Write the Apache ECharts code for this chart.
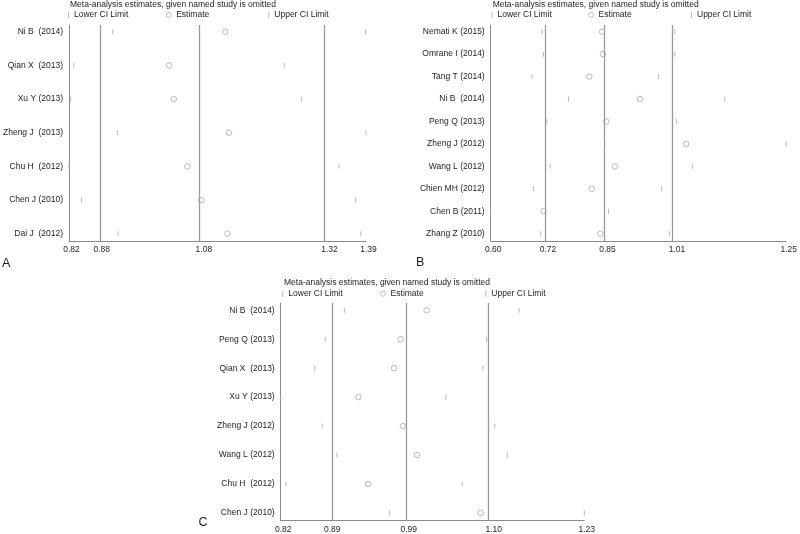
<!DOCTYPE html>
<html>
<head>
<meta charset="utf-8">
<script src="https://cdn.jsdelivr.net/npm/echarts@6/dist/echarts.min.js"></script>
<style>html,body{margin:0;padding:0;background:#fff}#chart{width:800px;height:534px}</style>
</head>
<body>
<div id="chart"></div>
<script>
// ---- Panel A ----
const studiesA = ['Ni B  (2014)', 'Qian X  (2013)', 'Xu Y (2013)', 'Zheng J  (2013)', 'Chu H  (2012)', 'Chen J (2010)', 'Dai J  (2012)'];
const lowerA = [0.904, 0.829, 0.823, 0.913, 0.820, 0.844, 0.914];
const estA   = [1.120, 1.012, 1.021, 1.127, 1.047, 1.074, 1.124];
const upperA = [1.389, 1.233, 1.266, 1.390, 1.338, 1.370, 1.380];
const refA = [0.878, 1.074, 1.315];
const tickValsA = [0.82, 0.878, 1.074, 1.315, 1.39];
const tickLabelsA = ['0.82', '0.88', '1.08', '1.32', '1.39'];

// ---- Panel B ----
const studiesB = ['Nemati K (2015)', 'Omrane I (2014)', 'Tang T (2014)', 'Ni B  (2014)', 'Peng Q (2013)', 'Zheng J (2012)', 'Wang L (2012)', 'Chien MH (2012)', 'Chen B (2011)', 'Zhang Z (2010)'];
const lowerB = [0.713, 0.716, 0.691, 0.771, 0.723, 0.851, 0.731, 0.694, 0.600, 0.710];
const estB   = [0.845, 0.847, 0.817, 0.928, 0.854, 1.030, 0.873, 0.822, 0.716, 0.841];
const upperB = [1.005, 1.005, 0.969, 1.115, 1.009, 1.250, 1.044, 0.976, 0.859, 0.993];
const refB = [0.7206, 0.8515, 1.0042];
const tickValsB = [0.60, 0.7206, 0.8515, 1.0042, 1.25];
const tickLabelsB = ['0.60', '0.72', '0.85', '1.01', '1.25'];

// ---- Panel C ----
const studiesC = ['Ni B  (2014)', 'Peng Q (2013)', 'Qian X  (2013)', 'Xu Y (2013)', 'Zheng J (2012)', 'Wang L (2012)', 'Chu H  (2012)', 'Chen J (2010)'];
const lowerC = [0.906, 0.880, 0.866, 0.820, 0.876, 0.896, 0.827, 0.967];
const estC   = [1.017, 0.982, 0.973, 0.925, 0.985, 1.004, 0.938, 1.090];
const upperC = [1.142, 1.098, 1.093, 1.043, 1.109, 1.126, 1.065, 1.230];
const refC = [0.8862, 0.9896, 1.1044];
const tickValsC = [0.82, 0.8862, 0.9896, 1.1044, 1.23];
const tickLabelsC = ['0.82', '0.89', '0.99', '1.10', '1.23'];

const titleText = 'Meta-analysis estimates, given named study is omitted';
const legendNames = ['Lower CI Limit', 'Estimate', 'Upper CI Limit'];

const FONT = 'Liberation Sans, Arial, Helvetica, sans-serif';
const TXT = '#1e1e1e';
const FS = 8.5;
const CI_COLOR = '#a8a8a8';
const EST_COLOR = '#a0a0a0';

const panels = [
  { studies: studiesA, lower: lowerA, est: estA, upper: upperA, ref: refA, tv: tickValsA, tl: tickLabelsA,
    xmin: 0.82, xmax: 1.39, grid: { left: 68, top: 25, width: 298, height: 216 }, padTop: 6.7, padBot: 7.3,
    titleX: 70, titleY: 0, legY: 10.5, legX: [68, 165.8, 268.3], letter: 'A', letterX: 2, letterY: 257.5 },
  { studies: studiesB, lower: lowerB, est: estB, upper: upperB, ref: refB, tv: tickValsB, tl: tickLabelsB,
    xmin: 0.60, xmax: 1.25, grid: { left: 490.7, top: 25, width: 298, height: 216 }, padTop: 6.7, padBot: 7.3,
    titleX: 492.7, titleY: 0, legY: 10.5, legX: [491.5, 588.2, 691], letter: 'B', letterX: 416, letterY: 256.5 },
  { studies: studiesC, lower: lowerC, est: estC, upper: upperC, ref: refC, tv: tickValsC, tl: tickLabelsC,
    xmin: 0.82, xmax: 1.23, grid: { left: 280.7, top: 303, width: 303.6, height: 217.7 }, padTop: 7.3, padBot: 7.8,
    titleX: 284, titleY: 278.3, legY: 289.3, legX: [282.3, 380.2, 485.3], letter: 'C', letterX: 198.5, letterY: 516.5 }
];

const option = {
  animation: false,
  backgroundColor: '#fff',
  textStyle: { fontFamily: FONT },
  title: [], legend: [], grid: [], xAxis: [], yAxis: [], series: []
};

panels.forEach((p, i) => {
  const n = p.studies.length;
  const inner = p.grid.height - p.padTop - p.padBot;
  const step = inner / (n - 1);
  const ymin = 1 - p.padTop / step;
  const ymax = n + p.padBot / step;

  option.title.push({
    text: titleText, left: p.titleX, top: p.titleY, padding: 0,
    textStyle: { fontSize: FS, fontWeight: 'normal', color: TXT, fontFamily: FONT }
  });
  option.title.push({
    text: p.letter, left: p.letterX, top: p.letterY, padding: 0,
    textStyle: { fontSize: 12.5, fontWeight: 'normal', color: TXT, fontFamily: FONT }
  });

  legendNames.forEach((nm, k) => {
    const isEst = k === 1;
    option.legend.push({
      data: [nm], left: p.legX[k], top: p.legY, padding: 0, selectedMode: false,
      itemWidth: isEst ? 5 : 1, itemHeight: isEst ? 5 : 6,
      icon: isEst ? 'circle' : 'rect',
      itemStyle: isEst
        ? { color: '#ffffff', borderColor: EST_COLOR, borderWidth: 0.8 }
        : { color: CI_COLOR, borderWidth: 0 },
      textStyle: { fontSize: FS, color: TXT, fontFamily: FONT }
    });
  });

  option.grid.push(Object.assign({ containLabel: false }, p.grid));

  option.xAxis.push({
    type: 'value', gridIndex: i, min: p.xmin, max: p.xmax,
    axisLine: { show: true, onZero: false, lineStyle: { color: '#8a8a8a', width: 1 } },
    axisTick: { show: false },
    splitLine: { show: false },
    axisLabel: {
      customValues: p.tv, margin: 4, fontSize: FS, color: TXT, fontFamily: FONT,
      padding: [0, 0, 0, 5], hideOverlap: false,
      formatter: (v) => {
        let best = 0;
        p.tv.forEach((t, j) => { if (Math.abs(t - v) < Math.abs(p.tv[best] - v)) best = j; });
        return p.tl[best];
      }
    }
  });

  option.yAxis.push({
    type: 'value', gridIndex: i, inverse: true, min: ymin, max: ymax,
    axisLine: { show: true, onZero: false, lineStyle: { color: '#8a8a8a', width: 1 } },
    axisTick: { show: false },
    splitLine: { show: false },
    axisLabel: {
      customValues: p.studies.map((_, j) => j + 1), margin: 6, fontSize: FS, color: TXT, fontFamily: FONT,
      hideOverlap: false,
      formatter: (v) => p.studies[Math.round(v) - 1] || ''
    }
  });

  const tickStyle = { color: CI_COLOR };
  option.series.push({
    name: 'Lower CI Limit', type: 'scatter', xAxisIndex: i, yAxisIndex: i,
    symbol: 'rect', symbolSize: [1, 5], itemStyle: tickStyle, silent: true,
    data: p.lower.map((v, j) => [v, j + 1]), z: 3
  });
  option.series.push({
    name: 'Estimate', type: 'scatter', xAxisIndex: i, yAxisIndex: i,
    symbol: 'circle', symbolSize: 5.5,
    itemStyle: { color: 'rgba(255,255,255,0)', borderColor: EST_COLOR, borderWidth: 0.9 }, silent: true,
    data: p.est.map((v, j) => [v, j + 1]), z: 4,
    markLine: {
      silent: true, symbol: 'none', label: { show: false },
      lineStyle: { color: '#9a9a9a', width: 1.3, type: 'solid' },
      data: p.ref.map(v => ({ xAxis: v })), z: 1
    }
  });
  option.series.push({
    name: 'Upper CI Limit', type: 'scatter', xAxisIndex: i, yAxisIndex: i,
    symbol: 'rect', symbolSize: [1, 5], itemStyle: tickStyle, silent: true,
    data: p.upper.map((v, j) => [v, j + 1]), z: 3
  });
});

const chart = echarts.init(document.getElementById('chart'), null, { renderer: 'canvas' });
chart.setOption(option);
</script>
</body>
</html>
